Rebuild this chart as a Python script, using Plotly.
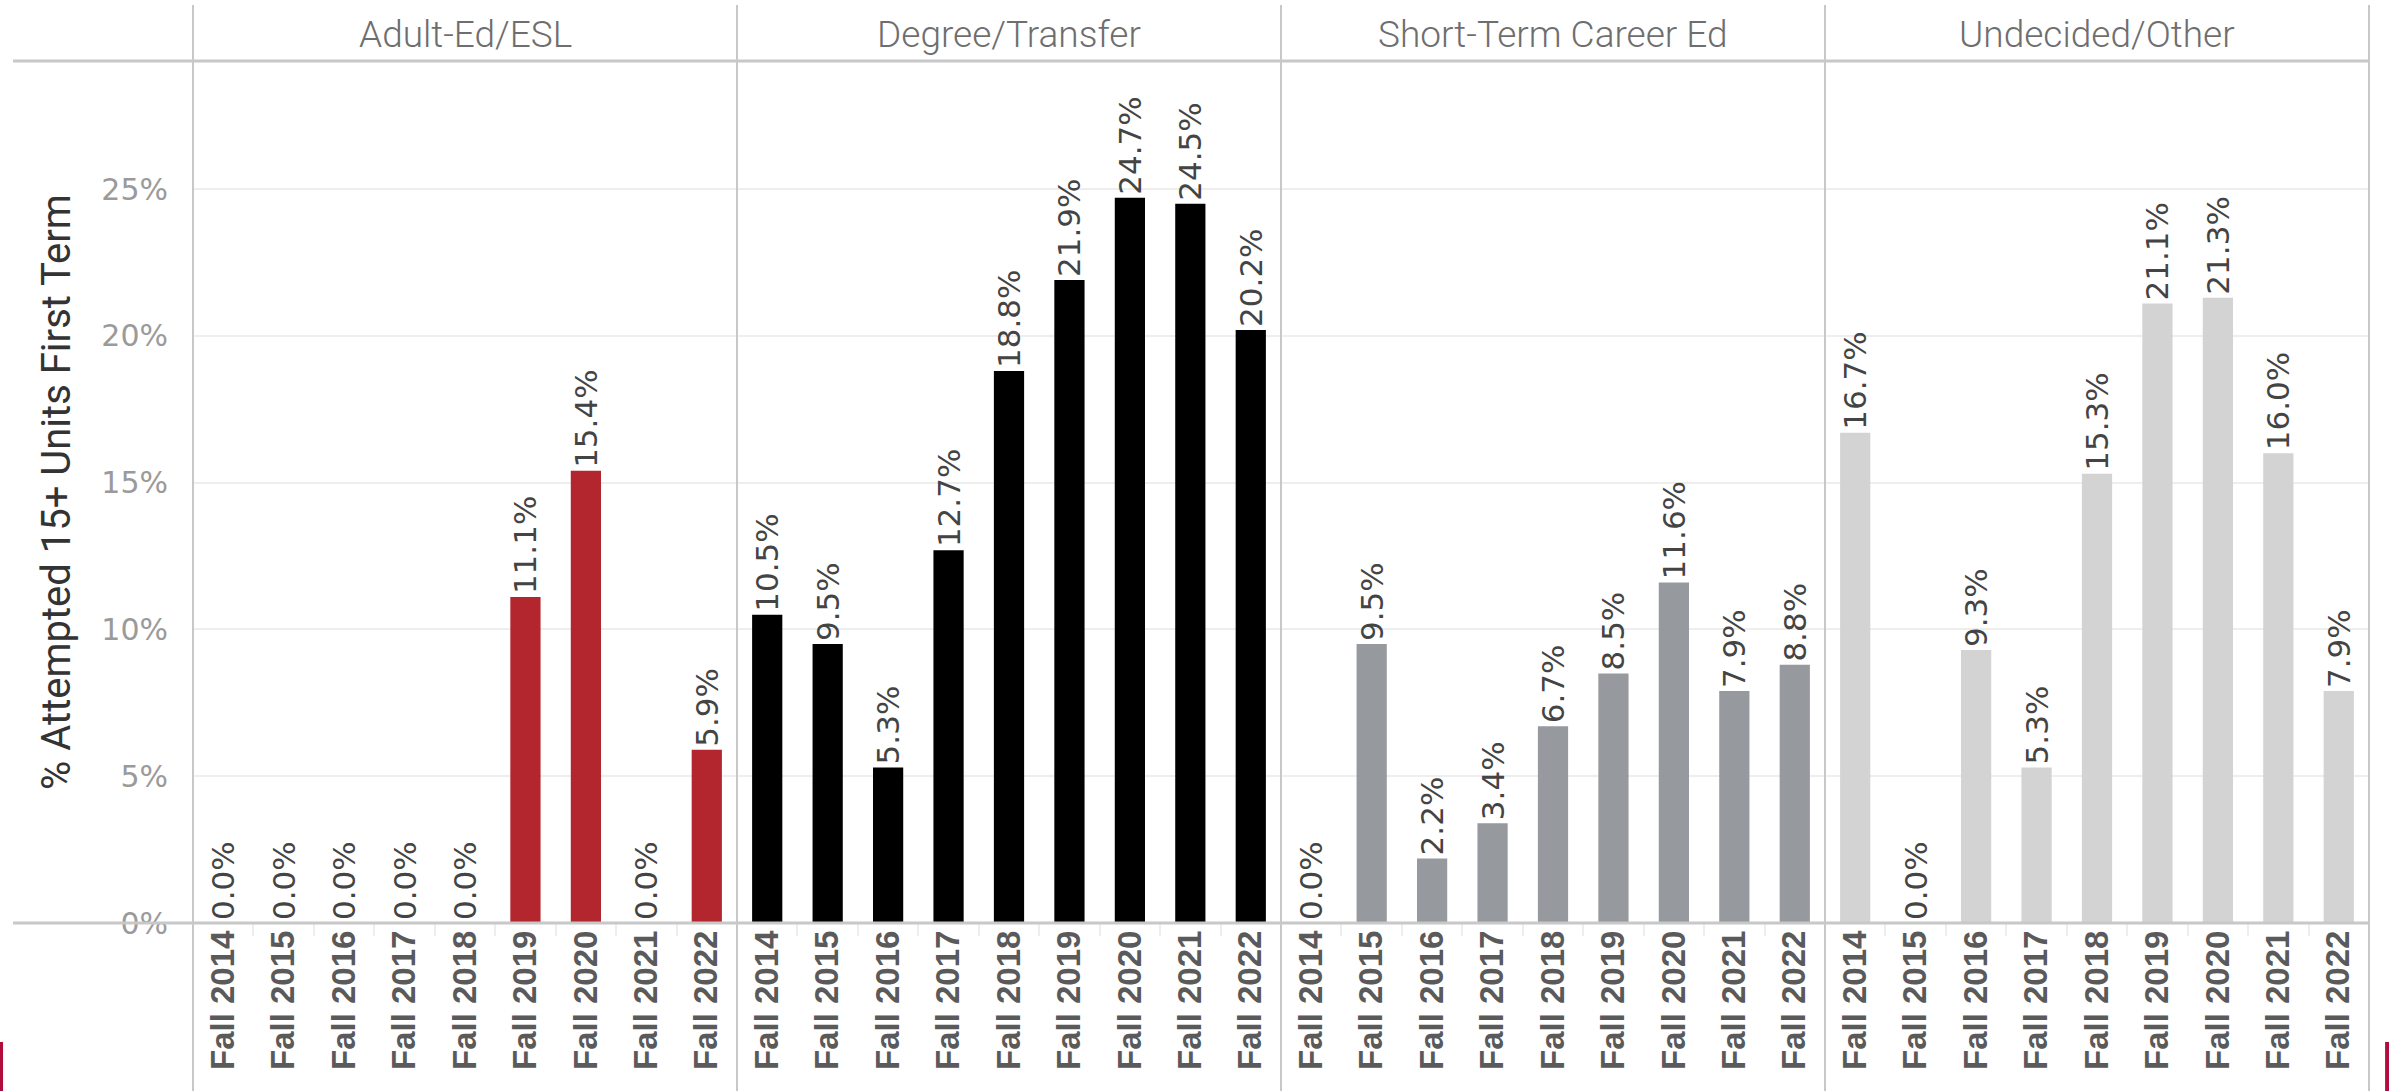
import plotly.graph_objects as go
from plotly.subplots import make_subplots

# --- data ---
terms = ["Fall 2014", "Fall 2015", "Fall 2016", "Fall 2017", "Fall 2018",
         "Fall 2019", "Fall 2020", "Fall 2021", "Fall 2022"]
groups = ["Adult-Ed/ESL", "Degree/Transfer", "Short-Term Career Ed", "Undecided/Other"]
adult_ed = [0.0, 0.0, 0.0, 0.0, 0.0, 11.1, 15.4, 0.0, 5.9]
degree_transfer = [10.5, 9.5, 5.3, 12.7, 18.8, 21.9, 24.7, 24.5, 20.2]
short_term = [0.0, 9.5, 2.2, 3.4, 6.7, 8.5, 11.6, 7.9, 8.8]
undecided = [16.7, 0.0, 9.3, 5.3, 15.3, 21.1, 21.3, 16.0, 7.9]
y_ticks = [0, 5, 10, 15, 20, 25]
y_tick_text = ["0%", "5%", "10%", "15%", "20%", "25%"]

series = [adult_ed, degree_transfer, short_term, undecided]
colors = ["#B3262E", "#000000", "#96999E", "#D3D3D3"]

FONT = "Liberation Sans, Arial, sans-serif"
WIDE = "DejaVu Sans, sans-serif"
THIN = "Roboto, Liberation Sans, sans-serif"
BORDER = "#C8C8C8"

fig = make_subplots(rows=1, cols=4, shared_yaxes=True, horizontal_spacing=0)

for i, (vals, col) in enumerate(zip(series, colors)):
    fig.add_trace(
        go.Bar(
            x=terms,
            y=vals,
            marker_color=col,
            marker_line_width=0,
            width=0.5,
            text=[f"{v:.1f}%" for v in vals],
            textposition="outside",
            textangle=-90,
            constraintext="none",
            cliponaxis=False,
            textfont=dict(family=WIDE, size=31, color="#444444"),
            showlegend=False,
        ),
        row=1, col=i + 1,
    )

fig.update_xaxes(
    type="category",
    tickangle=-90,
    tickfont=dict(family=FONT, size=33, color="#5A5A5A", weight="bold"),
    ticks="outside",
    tickson="boundaries",
    ticklen=12,
    tickcolor="#EEEEEE",
    tickwidth=2,
    showgrid=False,
    showline=False,
    zeroline=False,
)

fig.update_yaxes(
    range=[0, 29.36],
    tickmode="array",
    tickvals=y_ticks,
    ticktext=y_tick_text,
    tickfont=dict(family=WIDE, size=30, color="#9A9A9A"),
    showgrid=True,
    gridcolor="#EEEEEE",
    gridwidth=2,
    zeroline=False,
    showline=False,
    ticks="outside",
    ticklen=18,
    tickcolor="rgba(0,0,0,0)",
)
fig.update_yaxes(showticklabels=False, ticks="", col=2)
fig.update_yaxes(showticklabels=False, ticks="", col=3)
fig.update_yaxes(showticklabels=False, ticks="", col=4)

shapes = []
# panel borders
for xp in [0, 0.25, 0.5, 0.75, 1.0]:
    shapes.append(dict(type="line", xref="paper", yref="paper", x0=xp, x1=xp,
                       y0=-0.2, y1=1.065, line=dict(color=BORDER, width=2)))
# header line and baseline
for yp in [0, 1]:
    shapes.append(dict(type="line", xref="paper", yref="paper", x0=-0.0827, x1=1,
                       y0=yp, y1=yp, line=dict(color=BORDER, width=3)))
# small red marks at the bottom corners
shapes.append(dict(type="rect", xref="paper", yref="paper", x0=-0.0887, x1=-0.0873,
                   y0=-0.2, y1=-0.138, fillcolor="#B00D3C", line_width=0))
shapes.append(dict(type="rect", xref="paper", yref="paper", x0=1.0074, x1=1.0095,
                   y0=-0.2, y1=-0.138, fillcolor="#B00D3C", line_width=0))

annotations = []
for i, g in enumerate(groups):
    annotations.append(dict(
        text=g, xref="paper", yref="paper", x=0.125 + 0.25 * i, y=1.031,
        xanchor="center", yanchor="middle", showarrow=False,
        font=dict(family=THIN, size=37, color="#6E6E6E", weight=300),
    ))
annotations.append(dict(
    text="% Attempted 15+ Units First Term", xref="paper", yref="paper",
    x=-0.063, y=0.5, xanchor="center", yanchor="middle", textangle=-90,
    showarrow=False, font=dict(family=THIN, size=40, color="#333333"),
))

fig.update_layout(
    width=2389,
    height=1091,
    margin=dict(l=193, r=20, t=61, b=168),
    paper_bgcolor="white",
    plot_bgcolor="white",
    bargap=0.5,
    shapes=shapes,
    annotations=annotations,
)

# page body has a default 8px margin; drop it so the figure sits at 0,0
fig.write_html("out.html", config={"displayModeBar": False},
               post_script="document.body.style.margin='0';")
